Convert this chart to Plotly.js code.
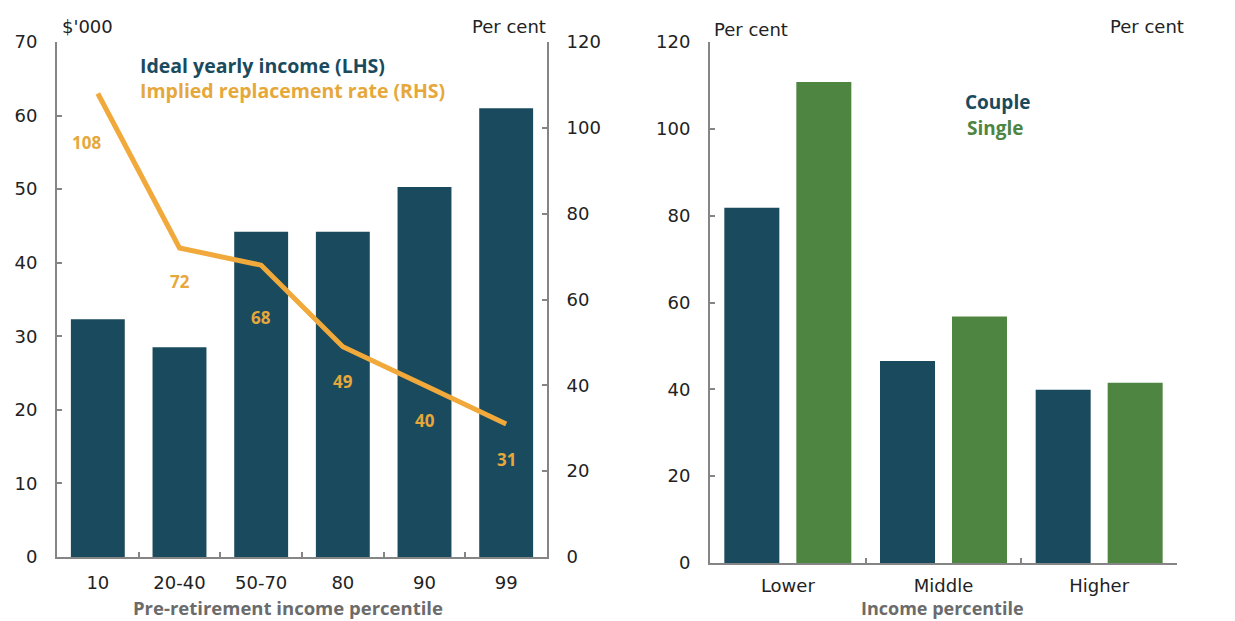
<!DOCTYPE html>
<html>
<head>
<meta charset="utf-8">
<script src="https://cdn.plot.ly/plotly-3.0.1.min.js"></script>
<style>
  html, body { margin: 0; padding: 0; background: #ffffff; }
  #chart { width: 1235px; height: 621px; }
</style>
</head>
<body>
<div id="chart"></div>
<script>
// ---- Data ----
const percentiles = ['10', '20-40', '50-70', '80', '90', '99'];
const idealIncome = [32.3, 28.5, 44.2, 44.2, 50.3, 61.0];      // $'000 (LHS)
const replacementRate = [108, 72, 68, 49, 40, 31];             // per cent (RHS)

const incomeGroups = ['Lower', 'Middle', 'Higher'];
const coupleRate = [81.8, 46.5, 39.9];
const singleRate = [110.8, 56.8, 41.5];

// ---- Styles ----
const TEAL = '#1a4a5e';
const GREEN = '#4e8541';
const ORANGE = '#f0a93a';
const LABEL_ORANGE = '#e6a83a';
const AXIS = '#858585';
const TICKFONT = { family: 'DejaVu Sans, Arial, sans-serif', size: 18, color: '#222222' };
const BOLD = 'Open Sans, Lato, sans-serif';

const W = 1235, H = 621;
const px = v => v / W;
const py = v => 1 - v / H;

const traces = [
  { type: 'bar', x: percentiles, y: idealIncome, xaxis: 'x', yaxis: 'y',
    width: 0.66, marker: { color: TEAL }, name: 'Ideal yearly income (LHS)' },
  { type: 'scatter', mode: 'lines', x: percentiles, y: replacementRate, xaxis: 'x', yaxis: 'y2',
    line: { color: ORANGE, width: 5 }, name: 'Implied replacement rate (RHS)' },
  { type: 'bar', x: incomeGroups, y: coupleRate, xaxis: 'x2', yaxis: 'y3',
    marker: { color: TEAL }, name: 'Couple' },
  { type: 'bar', x: incomeGroups, y: singleRate, xaxis: 'x2', yaxis: 'y3',
    marker: { color: GREEN }, name: 'Single' }
];

const yAx = (extra) => Object.assign({
  showgrid: false, zeroline: false, showline: true, linecolor: AXIS, linewidth: 2,
  ticks: 'inside', ticklen: 5, tickwidth: 2, tickcolor: AXIS,
  tickfont: TICKFONT, fixedrange: true, autorange: false
}, extra);

const xAx = (extra) => Object.assign({
  type: 'category', showgrid: false, zeroline: false, showline: true, linecolor: AXIS, linewidth: 2,
  ticks: 'inside', ticklen: 5, tickwidth: 2, tickcolor: AXIS, tickson: 'boundaries',
  tickfont: TICKFONT, fixedrange: true, autorange: false, tickangle: 0, ticklabelstandoff: 8
}, extra);

const lDom = [px(57), px(547)];
const rDom = [px(710), px(1177)];

// data labels for the replacement-rate line (x given as category index)
const labelShift = [[-11, -49], [0, -33], [0, -52], [0, -35], [0, -35], [0, -36]];
const annotations = replacementRate.map((v, i) => ({
  x: i, y: v, xref: 'x', yref: 'y2', text: String(v), showarrow: false,
  xshift: labelShift[i][0], yshift: labelShift[i][1],
  font: { family: BOLD, size: 17, color: LABEL_ORANGE, weight: 'bold' }
}));

const txt = (text, x, y, xanchor, font) => ({
  text, x: px(x), y: py(y), xref: 'paper', yref: 'paper', xanchor, yanchor: 'middle',
  showarrow: false, font
});
const unitFont = { family: 'DejaVu Sans, Arial, sans-serif', size: 18, color: '#222222' };

annotations.push(
  txt("$'000", 60, 27, 'left', unitFont),
  txt('Per cent', 548, 27, 'right', unitFont),
  txt('Per cent', 712, 30, 'left', unitFont),
  txt('Per cent', 1186, 27, 'right', unitFont),
  txt('Ideal yearly income (LHS)', 138, 65, 'left', { family: BOLD, size: 19.5, color: TEAL, weight: 'bold' }),
  txt('Implied replacement rate (RHS)', 138, 91, 'left', { family: BOLD, size: 19.5, color: LABEL_ORANGE, weight: 'bold' }),
  txt('Couple', 997, 102, 'center', { family: BOLD, size: 19, color: TEAL, weight: 'bold' }),
  txt('Single', 995, 128, 'center', { family: BOLD, size: 19, color: GREEN, weight: 'bold' }),
  txt('Pre-retirement income percentile', 288, 607, 'center', { family: BOLD, size: 18.5, color: '#6b6b6b', weight: 'bold' }),
  txt('Income percentile', 942, 608, 'center', { family: BOLD, size: 18, color: '#6b6b6b', weight: 'bold' })
);

const layout = {
  width: W, height: H,
  margin: { l: 0, r: 0, t: 0, b: 0 },
  paper_bgcolor: '#ffffff', plot_bgcolor: 'rgba(0,0,0,0)',
  showlegend: false,
  barmode: 'group', bargap: 0.075, bargroupgap: 0.236,
  xaxis: xAx({ domain: lDom, anchor: 'y', range: [-0.5, percentiles.length - 0.5] }),
  yaxis: yAx({ domain: [py(557), py(42)], anchor: 'x', side: 'left', range: [0, 70], dtick: 10, ticklabelstandoff: 14 }),
  yaxis2: yAx({ overlaying: 'y', anchor: 'x', side: 'right', range: [0, 120], dtick: 20, ticklabelstandoff: 14 }),
  xaxis2: xAx({ domain: rDom, anchor: 'y3', range: [-0.5, incomeGroups.length - 0.5], ticklabelstandoff: 5 }),
  yaxis3: yAx({ domain: [py(563), py(42)], anchor: 'x2', side: 'left', range: [0, 120], dtick: 20, ticklabelstandoff: 14 }),
  yaxis4: yAx({ overlaying: 'y3', anchor: 'x2', side: 'right', range: [0, 120], dtick: 20, ticklabelstandoff: 14 }),
  annotations
};

Plotly.newPlot('chart', traces, layout, { staticPlot: true, displayModeBar: false });
</script>
</body>
</html>
